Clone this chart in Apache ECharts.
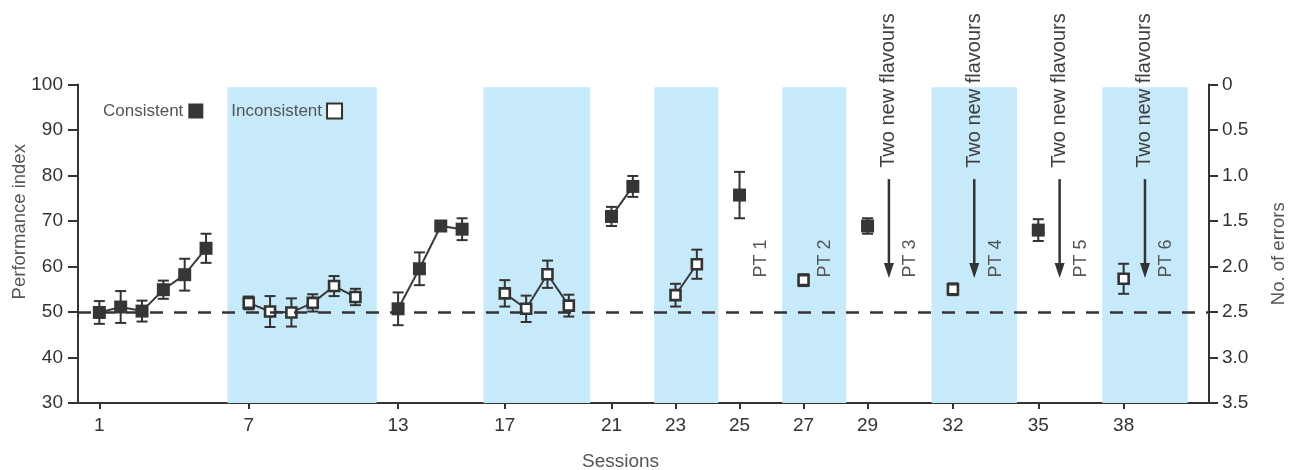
<!DOCTYPE html>
<html>
<head>
<meta charset="utf-8">
<title>Performance index across sessions</title>
<script src="https://cdn.jsdelivr.net/npm/echarts@6/dist/echarts.min.js"></script>
<style>
  html, body { margin: 0; padding: 0; background: #ffffff; }
  #chart { width: 1300px; height: 470px; }
</style>
</head>
<body>
<div id="chart"></div>
<script>
// Sessions are grouped into training blocks; one empty slot separates blocks on the x axis.
const sessionBlocks = [[1, 6], [7, 12], [13, 16], [17, 20], [21, 22], [23, 24],
                       [25, 26], [27, 28], [29, 31], [32, 34], [35, 37], [38, 40]];
// Blocks with the blue background
const shadedBlocks = [[7, 12], [17, 20], [23, 24], [27, 28], [32, 34], [38, 40]];

const xTickSessions = [1, 7, 13, 17, 21, 23, 25, 27, 29, 32, 35, 38];

// Consistent trials (filled squares): mean ± error
const consistentSessions = [1, 2, 3, 4, 5, 6, 13, 14, 15, 16, 21, 22, 25, 29, 35];
const consistentMean = [49.9, 51.1, 50.2, 54.9, 58.2, 64.0, 50.7, 59.5, 68.9, 68.2, 71.0, 77.6, 75.7, 68.9, 68.0];
const consistentErr = [2.5, 3.5, 2.3, 2.0, 3.5, 3.2, 3.6, 3.6, 1.0, 2.4, 2.1, 2.3, 5.1, 1.7, 2.4];

// Inconsistent trials (open squares): mean ± error
const inconsistentSessions = [7, 8, 9, 10, 11, 12, 17, 18, 19, 20, 23, 24, 27, 32, 38];
const inconsistentMean = [52.0, 50.1, 49.9, 52.0, 55.7, 53.3, 54.1, 50.7, 58.3, 51.4, 53.7, 60.5, 57.0, 55.0, 57.3];
const inconsistentErr = [1.4, 3.4, 3.1, 1.9, 2.2, 1.8, 2.9, 2.9, 3.0, 2.4, 2.5, 3.2, 1.3, 1.3, 3.3];

// Probe tests and the sessions where two new flavours were introduced
const ptSessions = [26, 28, 31, 34, 37, 40];
const ptLabels = ['PT 1', 'PT 2', 'PT 3', 'PT 4', 'PT 5', 'PT 6'];
const flavourSessions = [30, 33, 36, 39];
const flavourLabel = 'Two new flavours';

const chanceLevel = 50;

// Position of a session on the x axis: its number plus one gap per preceding block
function slot(session) {
  const i = sessionBlocks.findIndex(b => session >= b[0] && session <= b[1]);
  return session + i;
}
const slotToSession = {};
xTickSessions.forEach(s => { slotToSession[slot(s)] = s; });

// Line data broken between non-consecutive sessions
function lineData(sessions, means) {
  const out = [];
  sessions.forEach((s, i) => {
    if (i > 0 && s !== sessions[i - 1] + 1) out.push([slot(s) - 0.5, null]);
    out.push([slot(s), means[i]]);
  });
  return out;
}
function errData(sessions, means, errs) {
  return sessions.map((s, i) => [slot(s), means[i] - errs[i], means[i] + errs[i]]);
}

const FONT = "'Liberation Sans', Arial, Helvetica, sans-serif";
const INK = '#333333';
const BAND_TOP = 99.4;

function renderBand(params, api) {
  const p0 = api.coord([api.value(0), BAND_TOP]);
  const p1 = api.coord([api.value(1), 30]);
  return {
    type: 'rect',
    shape: { x: p0[0], y: p0[1], width: p1[0] - p0[0], height: p1[1] - p0[1] },
    style: { fill: '#c6eaf9' }
  };
}

function renderErr(params, api) {
  const x = api.value(0);
  const lo = api.coord([x, api.value(1)]);
  const hi = api.coord([x, api.value(2)]);
  const cap = 5.5;
  const st = { stroke: INK, lineWidth: 2 };
  return {
    type: 'group',
    children: [
      { type: 'line', shape: { x1: lo[0], y1: lo[1], x2: hi[0], y2: hi[1] }, style: st },
      { type: 'line', shape: { x1: lo[0] - cap, y1: lo[1], x2: lo[0] + cap, y2: lo[1] }, style: st },
      { type: 'line', shape: { x1: hi[0] - cap, y1: hi[1], x2: hi[0] + cap, y2: hi[1] }, style: st }
    ]
  };
}

function renderPT(params, api) {
  const p = api.coord([api.value(0), 57.6]);
  return {
    type: 'text',
    x: p[0], y: p[1],
    rotation: Math.PI / 2,
    style: {
      text: ptLabels[params.dataIndex],
      fill: '#555555',
      font: '18px ' + FONT,
      align: 'left',
      verticalAlign: 'middle'
    }
  };
}

function renderFlavour(params, api) {
  const x = api.value(0);
  const top = api.coord([x, 79.2]);
  const tip = api.coord([x, 57.5]);
  const txt = api.coord([x, 81.7]);
  const headLen = 15, headHalf = 5;
  return {
    type: 'group',
    children: [
      { type: 'line', shape: { x1: top[0], y1: top[1], x2: tip[0], y2: tip[1] - headLen + 2 },
        style: { stroke: INK, lineWidth: 2.5 } },
      { type: 'polygon',
        shape: { points: [[tip[0] - headHalf, tip[1] - headLen], [tip[0] + headHalf, tip[1] - headLen], [tip[0], tip[1]]] },
        style: { fill: INK } },
      { type: 'text', x: txt[0], y: txt[1], rotation: Math.PI / 2,
        style: { text: flavourLabel, fill: '#404040', font: '20px ' + FONT, align: 'left', verticalAlign: 'middle' } }
    ]
  };
}

const chart = echarts.init(document.getElementById('chart'), null, { renderer: 'canvas' });

const axisLineStyle = { color: INK, width: 2 };

chart.setOption({
  animation: false,
  backgroundColor: '#ffffff',
  textStyle: { fontFamily: FONT },
  grid: { left: 78, right: 91, top: 84.5, bottom: 67, outerBoundsMode: 'none', containLabel: false },
  legend: {
    left: 103,
    top: 102.5,
    padding: 0,
    align: 'right',
    itemGap: 28,
    itemWidth: 15,
    itemHeight: 15,
    icon: 'rect',
    textStyle: { fontSize: 17, color: '#555555', fontFamily: FONT },
    data: ['Consistent', 'Inconsistent']
  },
  xAxis: {
    type: 'value',
    min: 0,
    max: 53,
    name: 'Sessions',
    nameLocation: 'middle',
    nameGap: 49,
    nameMoveOverlap: false,
    nameTextStyle: { fontSize: 19, color: '#555555', padding: [0, 46, 0, 0] },
    splitLine: { show: false },
    axisLine: { show: true, onZero: false, lineStyle: axisLineStyle },
    axisTick: { show: true, length: 6, lineStyle: { color: INK, width: 2 }, customValues: xTickSessions.map(slot) },
    axisLabel: {
      fontSize: 19, color: INK, margin: 13,
      customValues: xTickSessions.map(slot),
      formatter: v => String(slotToSession[v] !== undefined ? slotToSession[v] : '')
    }
  },
  yAxis: [
    {
      type: 'value',
      min: 30, max: 100, interval: 10,
      name: 'Performance index',
      nameLocation: 'middle',
      nameRotate: 90,
      nameGap: 49,
      nameMoveOverlap: false,
      nameTextStyle: { fontSize: 18.5, color: '#555555', padding: [0, 0, 0, 44] },
      splitLine: { show: false },
      axisLine: { show: true, lineStyle: axisLineStyle },
      axisTick: { show: true, length: 10, lineStyle: { color: INK, width: 2 } },
      axisLabel: { fontSize: 19, color: INK, margin: 15 }
    },
    {
      type: 'value',
      position: 'right',
      inverse: true,
      min: 0, max: 3.5, interval: 0.5,
      name: 'No. of errors',
      nameLocation: 'middle',
      nameRotate: 90,
      nameGap: 60,
      nameMoveOverlap: false,
      nameTextStyle: { fontSize: 18.5, color: '#555555', padding: [0, 20, 0, 0] },
      splitLine: { show: false },
      axisLine: { show: true, lineStyle: axisLineStyle },
      axisTick: { show: true, length: 9, lineStyle: { color: INK, width: 2 } },
      axisLabel: { fontSize: 19, color: INK, margin: 13, formatter: v => (v === 0 ? '0' : v.toFixed(1)) }
    }
  ],
  series: [
    {
      name: 'blocks',
      type: 'custom',
      z: 1,
      silent: true,
      renderItem: renderBand,
      data: shadedBlocks.map(b => [slot(b[0]) - 1, slot(b[1]) + 1])
    },
    {
      name: 'errors',
      type: 'custom',
      z: 2,
      silent: true,
      renderItem: renderErr,
      data: errData(consistentSessions, consistentMean, consistentErr)
        .concat(errData(inconsistentSessions, inconsistentMean, inconsistentErr)),
      markLine: {
        silent: true,
        symbol: 'none',
        label: { show: false },
        lineStyle: { color: INK, width: 2.5, type: [13, 11] },
        data: [{ yAxis: chanceLevel }]
      }
    },
    {
      name: 'Consistent',
      type: 'line',
      z: 3,
      symbol: 'rect',
      symbolSize: 13,
      connectNulls: false,
      itemStyle: { color: '#363636' },
      lineStyle: { color: '#3a3a3a', width: 2 },
      data: lineData(consistentSessions, consistentMean)
    },
    {
      name: 'Inconsistent',
      type: 'line',
      z: 4,
      symbol: 'rect',
      symbolSize: 10,
      connectNulls: false,
      itemStyle: { color: '#ffffff', borderColor: '#333333', borderWidth: 2.6 },
      lineStyle: { color: '#3a3a3a', width: 2 },
      data: lineData(inconsistentSessions, inconsistentMean)
    },
    {
      name: 'probe tests',
      type: 'custom',
      z: 5,
      silent: true,
      renderItem: renderPT,
      data: ptSessions.map(s => [slot(s), 57.6])
    },
    {
      name: 'new flavours',
      type: 'custom',
      z: 5,
      silent: true,
      renderItem: renderFlavour,
      data: flavourSessions.map(s => [slot(s), 70])
    }
  ]
});
</script>
</body>
</html>
